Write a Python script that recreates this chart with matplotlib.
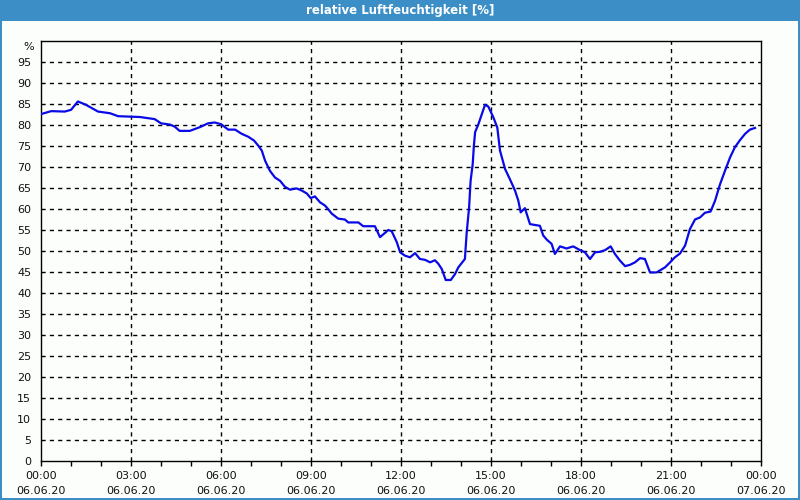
import matplotlib
matplotlib.use("Agg")
import matplotlib.pyplot as plt
from matplotlib.patches import Rectangle

title = "relative Luftfeuchtigkeit [%]"
# time in hours since 06.06.20 00:00
hours = [0.0, 0.34, 0.79, 1.0, 1.23, 1.5, 1.9, 2.3, 2.57, 2.9, 3.3, 3.79, 4.0, 4.3, 4.46,
         4.62, 4.96, 5.3, 5.57, 5.79, 6.0, 6.24, 6.47, 6.69, 6.91, 7.1, 7.24, 7.36, 7.47,
         7.63, 7.8, 7.97, 8.13, 8.3, 8.52, 8.69, 8.86, 8.99, 9.13, 9.3, 9.47, 9.58,
         9.69, 9.91, 10.13, 10.24, 10.58, 10.74, 11.13, 11.3, 11.58, 11.69, 11.86,
         11.97, 12.13, 12.3, 12.47, 12.63, 12.8, 12.97, 13.13, 13.24, 13.36, 13.49,
         13.66, 13.8, 13.91, 14.13, 14.19, 14.27, 14.32, 14.39, 14.43, 14.47, 14.58,
         14.8, 14.91, 15.08, 15.21, 15.3, 15.47, 15.63, 15.8, 15.91, 15.99, 16.13,
         16.3, 16.63, 16.74, 16.86, 17.02, 17.13, 17.3, 17.52, 17.74, 17.97, 18.13,
         18.3, 18.47, 18.63, 18.8, 18.99, 19.13, 19.3, 19.47, 19.63, 19.8, 19.97,
         20.13, 20.3, 20.52, 20.8, 20.97, 21.13, 21.3, 21.47, 21.63, 21.8, 21.97,
         22.13, 22.32, 22.47, 22.63, 22.8, 22.97, 23.13, 23.3, 23.47, 23.63, 23.8]
humidity = [82.6, 83.3, 83.2, 83.6, 85.6, 84.8, 83.2, 82.8, 82.1, 82.0, 81.9, 81.4, 80.4,
            80.1, 79.6, 78.6, 78.6, 79.5, 80.4, 80.6, 80.2, 78.9, 78.9, 77.9, 77.2, 76.3,
            75.1, 73.9, 71.5, 69.1, 67.5, 66.7, 65.3, 64.6, 64.9, 64.4, 63.7, 62.6, 63.0,
            61.6, 60.8, 59.9, 58.9, 57.7, 57.5, 56.8, 56.8, 55.9, 55.9, 53.3, 55.0, 54.7,
            52.1, 49.7, 48.9, 48.5, 49.5, 48.1, 47.9, 47.3, 47.8, 47.0, 45.7, 43.1, 43.1,
            44.5, 46.1, 48.1, 54.4, 60.4, 66.7, 70.7, 75.1, 78.3, 80.2, 84.8, 84.4, 81.8,
            79.4, 73.9, 69.5, 67.1, 64.4, 62.0, 59.2, 60.2, 56.4, 56.0, 53.7, 52.7, 51.7,
            49.3, 51.1, 50.6, 51.1, 50.2, 49.7, 48.1, 49.7, 49.8, 50.2, 51.1, 49.3, 47.7,
            46.4, 46.7, 47.3, 48.3, 48.1, 44.9, 44.9, 46.1, 47.3, 48.5, 49.4, 51.3, 55.2,
            57.5, 58.0, 59.1, 59.4, 62.0, 65.8, 69.1, 72.3, 74.7, 76.4, 77.9, 78.9, 79.3]

x_tick_hours = [0, 3, 6, 9, 12, 15, 18, 21, 24]
x_tick_labels = ["00:00\n06.06.20", "03:00\n06.06.20", "06:00\n06.06.20", "09:00\n06.06.20",
                 "12:00\n06.06.20", "15:00\n06.06.20", "18:00\n06.06.20", "21:00\n06.06.20",
                 "00:00\n07.06.20"]
y_ticks = list(range(0, 100, 5))
y_unit = "%"

blue_bar = "#3C8FC6"
bg = "#FCFEFC"

fig = plt.figure(figsize=(8, 5), dpi=100, facecolor=bg)
# title bar and frame
fig.patches.append(Rectangle((0, 1 - 21 / 500), 1, 21 / 500, transform=fig.transFigure,
                             facecolor=blue_bar, edgecolor="none", zorder=0))
fig.patches.append(Rectangle((0, 0), 2 / 800, 1, transform=fig.transFigure,
                             facecolor=blue_bar, edgecolor="none", zorder=0))
fig.patches.append(Rectangle((1 - 2 / 800, 0), 2 / 800, 1, transform=fig.transFigure,
                             facecolor=blue_bar, edgecolor="none", zorder=0))
fig.patches.append(Rectangle((0, 0), 1, 2 / 500, transform=fig.transFigure,
                             facecolor=blue_bar, edgecolor="none", zorder=0))
fig.text(0.5, 1 - 10.5 / 500, title, color="white", fontsize=8.5, fontweight="bold",
         ha="center", va="center", family="DejaVu Sans")

ax = fig.add_axes([41 / 800, 1 - 461 / 500, 720 / 800, 420 / 500])
ax.set_facecolor(bg)
ax.plot(hours, humidity, color="#0A0AE6", lw=1.6, zorder=3)
ax.set_xlim(0, 24)
ax.set_ylim(0, 100)

for h in x_tick_hours[1:-1]:
    ax.axvline(h, color="black", lw=1, ls=(0, (3, 3)), zorder=1)
for v in y_ticks[1:]:
    ax.axhline(v, color="black", lw=1, ls=(0, (3, 3)), zorder=1)

ax.set_xticks(x_tick_hours)
ax.set_xticklabels(x_tick_labels, fontsize=8, linespacing=1.6)
ax.set_xticks(range(0, 25), minor=True)
ax.tick_params(axis="x", which="both", direction="out", length=3.5, width=1, pad=4,
               color="black", labelcolor="#111111")
ax.set_yticks(y_ticks)
ax.set_yticklabels([str(v) for v in y_ticks], fontsize=8)
ax.tick_params(axis="y", length=0, pad=7, labelcolor="#111111")
ax.text(-7 / 720, 98.5, y_unit, transform=ax.get_yaxis_transform(), ha="right", va="center",
        fontsize=8, color="#111111")
for s in ax.spines.values():
    s.set_color("black")
    s.set_linewidth(1)

fig.savefig("out.png", dpi=100, facecolor=bg)
